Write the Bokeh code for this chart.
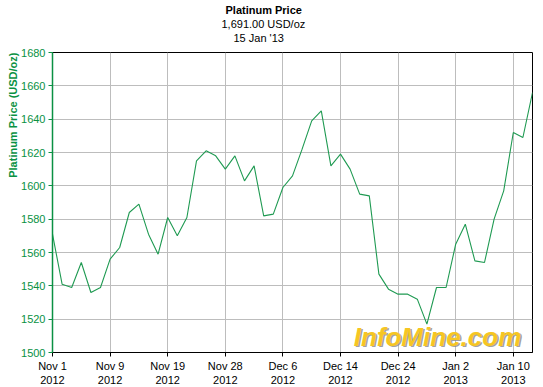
from bokeh.plotting import figure
from bokeh.models import Range1d, FixedTicker, Label, Title
from bokeh.embed import file_html
from bokeh.resources import INLINE

# ---- data (trading-day index -> price, USD/oz) ----
prices = [1571, 1541, 1539, 1554, 1536, 1539, 1556, 1563, 1584, 1589,
          1571, 1559, 1581, 1570, 1581, 1615, 1621, 1618, 1610, 1618,
          1603, 1612, 1582, 1583, 1599, 1606, 1622, 1639, 1645, 1612,
          1619, 1610, 1595, 1594, 1547, 1538, 1535, 1535, 1532, 1517,
          1539, 1539, 1565, 1577, 1555, 1554, 1580, 1597, 1632, 1629, 1656]
tick_idx = [0, 6, 12, 18, 24, 30, 36, 42, 48]
tick_labels = ["Nov 1\n2012", "Nov 9\n2012", "Nov 19\n2012", "Nov 28\n2012",
               "Dec 6\n2012", "Dec 14\n2012", "Dec 24\n2012", "Jan 2\n2013",
               "Jan 10\n2013"]
y_ticks = list(range(1500, 1681, 20))
title_lines = ["Platinum Price", "1,691.00 USD/oz", "15 Jan '13"]
y_title = "Platinum Price (USD/oz)"
watermark = "InfoMine.com"

xs = list(range(len(prices)))

GREEN = "#0a9143"
LINE = "#1f9a52"
FONT = "Liberation Sans"

p = figure(frame_width=480, frame_height=300, output_backend="svg",
           toolbar_location=None, x_range=Range1d(0, len(prices) - 1),
           y_range=Range1d(1500, 1680),
           min_border_left=52, min_border_right=11, min_border_top=52,
           min_border_bottom=35, background_fill_color="white",
           border_fill_color="white")
p.outline_line_color = "black"
p.outline_line_width = 1

p.line(xs, prices, line_color=LINE, line_width=1.1)

# axes
xa = p.xaxis[0]
xa.ticker = FixedTicker(ticks=tick_idx)
xa.major_label_overrides = {i: l for i, l in zip(tick_idx, tick_labels)}
xa.axis_line_color = "black"
xa.major_tick_line_color = "black"
xa.major_tick_out = 4
xa.major_tick_in = 0
xa.minor_tick_line_color = None
xa.major_label_text_font = FONT
xa.major_label_text_font_size = "11px"
xa.major_label_text_color = "black"
xa.major_label_standoff = 3

ya = p.yaxis[0]
ya.ticker = FixedTicker(ticks=y_ticks)
ya.axis_line_color = GREEN
ya.axis_line_width = 1.5
ya.major_tick_line_color = GREEN
ya.major_tick_out = 4
ya.major_tick_in = 0
ya.minor_tick_line_color = None
ya.major_label_text_font = FONT
ya.major_label_text_font_size = "11px"
ya.major_label_text_color = GREEN
ya.major_label_standoff = 3

p.xgrid.ticker = FixedTicker(ticks=tick_idx[1:])
p.ygrid.ticker = FixedTicker(ticks=y_ticks[1:-1])
for g in (p.xgrid[0], p.ygrid[0]):
    g.grid_line_color = "#bdbdbd"
    g.grid_line_width = 1

# stacked titles: p.title is outermost, added ones go nearest-first
p.title = Title(text=title_lines[0], align="left", offset=173,
                standoff=0, text_font=FONT, text_font_size="11px",
                text_font_style="bold", text_color="black",
                text_line_height=0.9)
# small blank spacer between the last title line and the frame
p.add_layout(Title(text="\u00a0", align="left", standoff=0,
                   text_font=FONT, text_font_size="7px"), "above")
p.add_layout(Title(text=title_lines[2], align="left", offset=181,
                   standoff=0, text_font=FONT, text_font_size="11px",
                   text_font_style="normal", text_color="black",
                   text_line_height=0.9), "above")
p.add_layout(Title(text=title_lines[1], align="left", offset=169,
                   standoff=0, text_font=FONT, text_font_size="11px",
                   text_font_style="normal", text_color="black",
                   text_line_height=0.9), "above")

# y title on the left, aligned to the top end of the axis
p.add_layout(Title(text=y_title, align="right", offset=0, standoff=0,
                   text_font=FONT, text_font_size="11px",
                   text_font_style="bold", text_color=GREEN), "left")

# watermark with shadow (inside the frame)
p.add_layout(Label(x=386.5, y=14.5, x_units="screen", y_units="screen",
                   text=watermark, text_align="center", text_baseline="middle",
                   text_font=FONT, text_font_size="26px",
                   text_font_style="bold italic", text_color="#8a8a8a",
                   text_alpha=0.8))
p.add_layout(Label(x=385, y=16, x_units="screen", y_units="screen",
                   text=watermark, text_align="center", text_baseline="middle",
                   text_font=FONT, text_font_size="26px",
                   text_font_style="bold italic", text_color="#f6c623"))

open("out.html", "w").write(file_html(p, INLINE))
